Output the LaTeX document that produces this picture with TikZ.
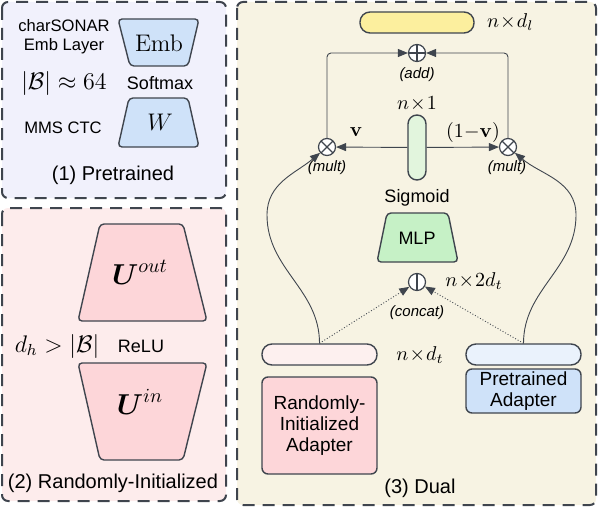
\documentclass[tikz,border=0pt]{standalone}
\usepackage{amsmath}
\usepackage[no-math]{fontspec}
\setmainfont{Liberation Sans}
\usetikzlibrary{arrows.meta}

\definecolor{edgegray}{HTML}{3F454E}
\definecolor{preFill}{HTML}{F1F1FC}
\definecolor{randFill}{HTML}{FDECEC}
\definecolor{dualFill}{HTML}{F7F3E3}
\definecolor{blueT}{HTML}{CFE2F9}
\definecolor{pinkT}{HTML}{FDD6D9}
\definecolor{greenT}{HTML}{C6F1C6}
\definecolor{yellowBar}{HTML}{FCEF9E}
\definecolor{gateBar}{HTML}{E2F5DD}
\definecolor{pinkBar}{HTML}{FDF0EF}
\definecolor{blueBar}{HTML}{EAF2FC}

\tikzset{
    panel/.style={draw=edgegray, line width=1pt, dash pattern=on 6pt off 4pt, rounded corners=3pt},
    trap/.style={draw=edgegray, line width=0.7pt, rounded corners=2pt},
    bar/.style={draw=edgegray, line width=0.7pt, rounded corners=5pt, inner sep=0pt},
    box/.style={draw=edgegray, line width=0.7pt, rounded corners=3pt, inner sep=0pt, align=center,
        font=\fontsize{9.5}{10.5}\selectfont},
    op/.style={circle, draw=edgegray, fill=white, line width=0.6pt, minimum size=8.5pt, inner sep=0pt},
    mult/.style={op, path picture={
        \draw[edgegray, line width=0.6pt] (path picture bounding box.north west) -- (path picture bounding box.south east)
            (path picture bounding box.north east) -- (path picture bounding box.south west);}},
    plus/.style={op, path picture={
        \draw[edgegray, line width=0.6pt] (path picture bounding box.north) -- (path picture bounding box.south)
            (path picture bounding box.east) -- (path picture bounding box.west);}},
    cat/.style={op, path picture={
        \draw[edgegray, line width=1.2pt] (path picture bounding box.north) -- (path picture bounding box.south);}},
    arr/.style={draw=edgegray, line width=0.45pt, -{Triangle[length=5pt,width=4pt]}},
    lbl/.style={font=\fontsize{9}{10}\selectfont},
    side/.style={font=\fontsize{8.3}{9.5}\selectfont, align=center},
    tag/.style={font=\fontsize{7.5}{9}\selectfont\itshape},
    dim/.style={font=\fontsize{10}{12}\selectfont},
    title/.style={font=\fontsize{10}{12}\selectfont},
}
\newcommand{\by}{\!\times\!}

\begin{document}
\begin{tikzpicture}[x=0.5pt, y=-0.5pt]
    \useasboundingbox (0,0) rectangle (598,508);

    % (1) pretrained
    \begin{scope}
        \draw[panel, fill=preFill] (2,2) rectangle (226,198);
        \node[side] (charsonar) at (64,37) {charSONAR\\Emb Layer};
        \draw[trap, fill=blueT] (118,19) -- (199,19) -- (188,66) -- (130,66) -- cycle;
        \node (emb) at (159,43) {\large$\mathrm{Emb}$};
        \node (vocab) at (64,84) {\large$|\mathcal{B}|\approx 64$};
        \node[lbl] (softmax) at (160,83) {Softmax};
        \draw[trap, fill=blueT] (129,98) -- (188,98) -- (199,147) -- (118,147) -- cycle;
        \node (w) at (160,122) {\large$W$};
        \node[side] (mms) at (63,128) {MMS CTC};
        \node[title] (pretrained) at (113,175) {(1) Pretrained};
    \end{scope}

    % (2) randomly initialized
    \begin{scope}
        \draw[panel, fill=randFill] (2,208) rectangle (226,501);
        \draw[trap, fill=pinkT] (100,224) -- (183,224) -- (207,321) -- (78,321) -- cycle;
        \node (uout) at (140,272) {\Large$\boldsymbol{U}^{out}$};
        \node (dh) at (57,346) {\large$d_h > |\mathcal{B}|$};
        \node[lbl] (relu) at (141,346) {ReLU};
        \draw[trap, fill=pinkT] (78,363) -- (207,363) -- (183,460) -- (100,460) -- cycle;
        \node (uin) at (140,402) {\Large$\boldsymbol{U}^{in}$};
        \node[title] (randinit) at (113,483) {(2) Randomly-Initialized};
    \end{scope}

    % (3) dual
    \begin{scope}
        \draw[panel, fill=dualFill] (237,2) rectangle (596,505);
        \node[bar, fill=yellowBar, minimum width=57pt, minimum height=10.5pt] (out) at (417,22.5) {};
        \node[dim, anchor=west] (outdim) at (480,22) {$n\by d_l$};
        \node[plus] (add) at (417,53) {};
        \node[tag] (addtag) at (417,75) {(add)};
        \node[bar, fill=gateBar, rounded corners=4.5pt, minimum width=9pt, minimum height=32.5pt] (gate) at (417,147.5) {};
        \node[dim] (gatedim) at (417,104) {$n\by 1$};
        \node[mult] (multL) at (327,147) {};
        \node[mult] (multR) at (508,147) {};
        \node[tag] (multLtag) at (327,168) {(mult)};
        \node[tag] (multRtag) at (507,168) {(mult)};
        \node (v) at (356,132) {$\mathbf{v}$};
        \node (onev) at (473,132) {$(1{-}\mathbf{v})$};
        \node[lbl] (sigmoid) at (417,198) {Sigmoid};
        \draw[trap, fill=greenT] (387,213) -- (448,213) -- (458,262) -- (377,262) -- cycle;
        \node[lbl] (mlp) at (417,238) {MLP};
        \node[cat] (concat) at (417,282) {};
        \node[tag] (concattag) at (417,313) {(concat)};
        \node[dim] (catdim) at (474,281) {$n\by 2d_t$};
        \node[bar, fill=pinkBar, minimum width=57.5pt, minimum height=10.5pt] (pinkbar) at (319.5,354.5) {};
        \node[bar, fill=blueBar, minimum width=57.5pt, minimum height=10.5pt] (bluebar) at (523.5,354.5) {};
        \node[dim] (tdim) at (420,355) {$n\by d_t$};
        \node[box, fill=pinkT, minimum width=57.5pt, minimum height=48.5pt] (randad) at (319.5,425.5)
            {Randomly-\\Initialized\\Adapter};
        \node[box, fill=blueT, minimum width=57.5pt, minimum height=22pt] (pread) at (523.5,391)
            {Pretrained\\Adapter};
        \node[title] (dual) at (420,488) {(3) Dual};

        \coordinate (bendL) at (267,215);
        \coordinate (bendR) at (576,215);

        \draw[arr, rounded corners=2pt] (multL) |- (add);
        \draw[arr, rounded corners=2pt] (multR) |- (add);
        \draw[arr] (gate) -- (multL);
        \draw[arr] (gate) -- (multR);
        \draw[arr, densely dotted] (pinkbar.north) -- (concat);
        \draw[arr, densely dotted] (bluebar.north) -- (concat);
        \draw[arr] (pinkbar.north) to[out=90, in=-90] (bendL) to[out=90, in=-140] (multL);
        \draw[arr] (bluebar.north) to[out=90, in=-90] (bendR) to[out=90, in=-40] (multR);
    \end{scope}
\end{tikzpicture}
\end{document}
